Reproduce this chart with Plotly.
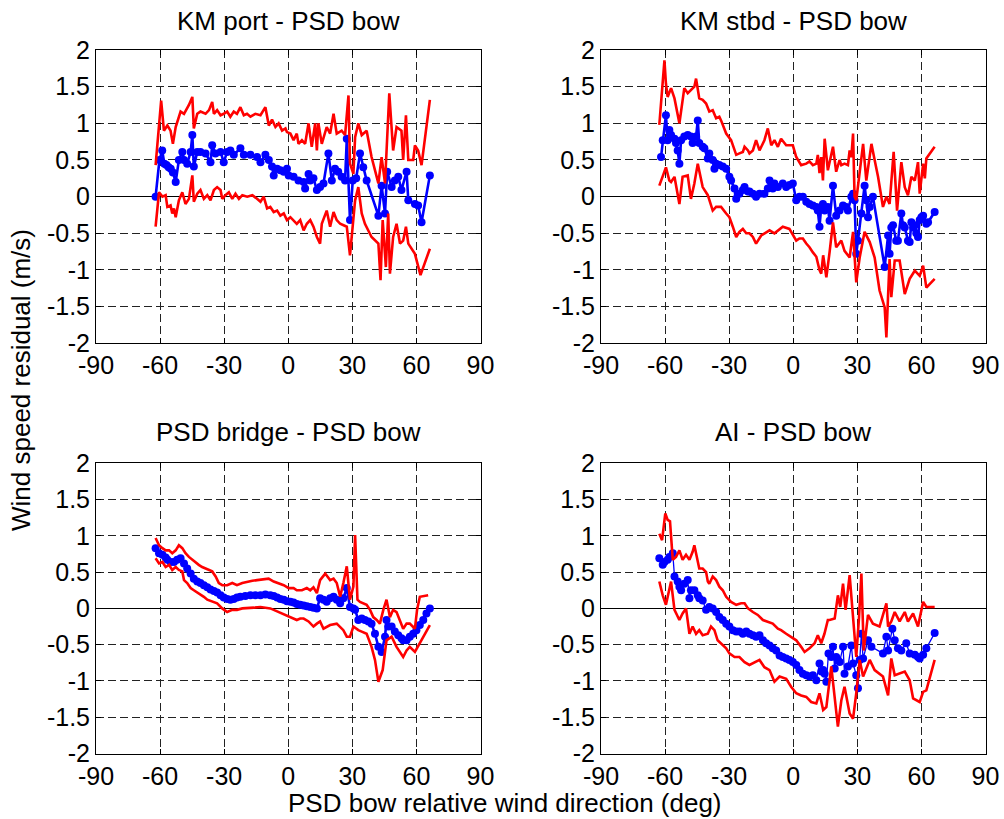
import plotly.graph_objects as go

# ---------------- data (x = PSD bow relative wind direction, deg; y = residual, m/s) ----------------
# Panel 1: KM port - PSD bow
p1_mean = [(-62.1,0.0),(-60.3,0.5),(-59.0,0.63),(-58.0,0.45),(-57.0,0.43),(-56.0,0.4),(-55.0,0.38),(-54.0,0.33),
           (-52.7,0.2),(-51.2,0.5),(-49.6,0.61),(-48.8,0.5),(-47.3,0.45),(-45.7,0.61),(-44.9,0.84),(-44.2,0.41),
           (-42.6,0.61),(-41.1,0.61),(-38.7,0.59),(-36.4,0.47),(-35.6,0.7),(-34.1,0.59),(-31.7,0.61),(-30.2,0.47),
           (-28.6,0.61),(-27.1,0.63),(-25.5,0.57),(-22.4,0.66),(-20.8,0.57),(-17.7,0.57),(-14.6,0.54),(-13.0,0.47),
           (-10.7,0.57),(-9.1,0.5),(-7.6,0.41),(-6.8,0.29),(-5.2,0.38),(-3.7,0.36),(-2.1,0.34),(-0.6,0.38),
           (0.2,0.29),(2.5,0.27),(4.8,0.22),(7.2,0.2),(7.9,0.11),(9.5,0.31),(10.3,0.22),(11.8,0.25),(13.4,0.09),
           (14.9,0.13),(16.5,0.18),(18.8,0.59),(20.4,0.22),(21.9,0.38),(23.4,0.34),(25.0,0.27),(26.6,0.22),
           (27.4,0.79),(28.9,-0.32),(30.2,0.22),(31.8,0.25),(33.6,0.59),(35.1,0.4),(36.7,0.22),(42.2,-0.26),
           (43.7,0.15),(45.3,-0.23),(46.3,0.34),(48.4,0.13),(49.9,0.22),(51.5,0.27),(53.0,0.09),(55.4,0.34),
           (56.2,-0.05),(59.3,-0.1),(60.8,-0.12),(62.4,-0.35),(66.3,0.29)]
p1_upper = [(-62.1,0.43),(-59.5,1.31),(-58.2,0.9),(-56.6,0.97),(-55.1,0.9),(-54.0,0.72),(-52.7,0.95),(-51.2,1.1),
            (-50.4,1.16),(-48.8,1.13),(-47.3,1.2),(-46.5,1.25),(-44.9,1.36),(-44.2,0.93),(-42.6,1.13),(-41.1,1.16),
            (-38.7,1.13),(-37.1,1.18),(-35.6,1.29),(-34.8,1.13),(-33.3,1.18),(-31.7,1.11),(-30.2,1.13),(-28.6,1.16),
            (-27.1,1.09),(-25.5,1.16),(-24.0,1.13),(-22.4,1.22),(-20.8,1.11),(-19.3,1.13),(-17.7,1.09),(-15.4,1.13),
            (-13.0,1.11),(-10.7,1.22),(-9.1,0.97),(-7.6,1.05),(-6.0,0.95),(-4.5,1.0),(-2.9,0.9),(-1.3,0.93),
            (-0.6,0.88),(1.0,0.86),(2.5,0.77),(4.0,0.86),(4.8,0.72),(6.4,0.77),(7.9,0.72),(9.5,1.0),(11.0,0.68),
            (12.6,1.0),(13.4,0.63),(14.1,1.0),(15.7,0.72),(18.0,0.95),(19.6,0.86),(21.2,1.13),(22.7,0.86),
            (25.0,0.9),(26.6,0.84),(28.2,1.38),(28.9,0.45),(30.5,0.31),(31.3,0.81),(32.8,1.0),(34.4,0.84),
            (36.7,0.9),(39.0,0.54),(42.2,0.18),(43.7,0.54),(45.3,0.18),(47.3,1.41),(49.1,0.63),(50.7,0.95),
            (53.0,0.9),(53.8,0.5),(55.1,1.11),(56.2,0.5),(58.5,0.5),(59.3,0.7),(60.8,0.63),(62.4,0.43),(66.3,1.32)]
p1_lower = [(-62.1,-0.41),(-60.5,0.06),(-58.9,0.0),(-57.4,0.02),(-56.6,-0.14),(-55.1,-0.12),(-54.3,-0.23),
            (-53.5,-0.16),(-52.7,-0.28),(-51.2,-0.05),(-49.6,0.06),(-48.1,-0.1),(-46.5,-0.03),(-44.9,0.29),
            (-44.2,-0.07),(-42.6,0.04),(-41.1,0.09),(-39.5,-0.03),(-37.9,0.02),(-36.4,-0.05),(-34.8,0.09),
            (-33.3,0.13),(-31.7,0.09),(-30.9,-0.03),(-29.4,0.02),(-27.8,0.06),(-26.2,-0.03),(-24.7,0.04),
            (-23.1,-0.03),(-21.5,0.02),(-19.2,0.0),(-16.8,0.02),(-14.6,-0.03),(-13.0,-0.07),(-11.5,0.0),
            (-9.9,-0.16),(-8.4,-0.14),(-6.8,-0.21),(-5.2,-0.19),(-3.7,-0.26),(-2.1,-0.23),(-0.6,-0.32),
            (1.0,-0.28),(2.5,-0.32),(4.0,-0.37),(5.6,-0.32),(7.2,-0.46),(8.7,-0.37),(10.3,-0.32),(11.8,-0.41),
            (13.4,-0.55),(14.9,-0.64),(15.7,-0.37),(18.0,-0.19),(19.6,-0.41),(21.2,-0.21),(22.7,-0.32),
            (24.3,-0.37),(27.4,-0.41),(28.9,-0.8),(31.3,-0.05),(32.8,0.13),(34.4,-0.23),(35.9,-0.37),
            (39.0,-0.55),(42.2,-0.64),(43.2,-1.14),(44.2,-0.32),(45.7,-0.96),(46.8,-0.23),(47.6,-1.05),
            (49.1,-0.55),(50.7,-0.37),(52.3,-0.64),(53.8,-0.6),(55.1,-0.41),(56.2,-0.64),(59.3,-0.78),
            (61.9,-1.07),(66.3,-0.71)]

# Panel 2: KM stbd - PSD bow
p2_mean = [(-61.9,0.54),(-61.1,0.77),(-59.6,1.11),(-58.8,0.77),(-58.0,0.91),(-57.2,0.84),(-55.6,0.79),
           (-54.9,0.73),(-54.1,0.63),(-53.3,0.45),(-52.5,0.77),(-51.0,0.82),(-49.4,0.84),(-47.9,0.82),
           (-47.1,0.73),(-45.5,0.82),(-44.7,1.04),(-44.0,0.73),(-42.4,0.68),(-41.6,0.66),(-40.0,0.52),
           (-39.3,0.59),(-37.7,0.5),(-36.9,0.38),(-36.1,0.45),(-34.6,0.43),(-33.0,0.41),(-31.4,0.38),
           (-29.9,0.27),(-29.1,0.22),(-27.5,0.11),(-26.7,-0.03),(-26.0,0.04),(-25.2,0.04),(-23.6,0.09),
           (-22.8,0.13),(-21.2,0.07),(-20.5,0.07),(-18.9,0.04),(-17.4,0.0),(-15.8,0.04),(-13.5,0.04),
           (-11.9,0.11),(-11.1,0.22),(-9.6,0.11),(-8.8,0.18),(-7.2,0.13),(-4.9,0.18),(-3.3,0.13),(-1.8,0.16),
           (-0.2,0.18),(1.4,-0.05),(2.9,0.0),(4.5,0.0),(6.1,-0.07),(7.6,-0.1),(9.2,-0.12),(10.8,-0.14),
           (11.5,-0.19),(12.3,-0.41),(13.1,-0.14),(13.9,-0.1),(14.7,-0.19),(16.2,-0.14),(17.0,-0.33),
           (18.6,0.15),(20.1,-0.26),(21.7,-0.19),(23.3,-0.12),(24.8,-0.14),(25.6,-0.19),(27.2,0.0),(28.0,0.04),
           (28.7,-0.05),(29.5,-0.78),(30.3,-0.6),(31.9,-0.23),(33.4,0.15),(34.2,-0.05),(35.0,-0.28),
           (35.8,-0.14),(37.3,0.0),(42.8,-0.96),(44.4,-0.53),(45.1,-0.78),(45.9,-0.42),(46.7,-0.39),
           (48.2,-0.6),(49.0,-0.6),(50.6,-0.23),(51.4,-0.39),(52.2,-0.42),(53.7,-0.6),(54.5,-0.62),
           (55.3,-0.35),(56.1,-0.42),(56.9,-0.39),(57.6,-0.5),(58.4,-0.55),(59.2,-0.32),(60.0,-0.28),
           (60.8,-0.26),(62.3,-0.37),(63.1,-0.35),(66.2,-0.21)]
p2_upper = [(-62.7,0.98),(-60.3,1.86),(-59.6,1.54),(-58.8,1.36),(-57.2,1.48),(-55.6,1.34),(-53.3,1.0),
            (-51.8,1.36),(-51.0,1.48),(-49.4,1.41),(-47.9,1.45),(-46.3,1.5),(-45.5,1.61),(-44.0,1.34),
            (-42.4,1.32),(-40.8,1.27),(-39.3,1.16),(-37.7,1.18),(-36.1,1.07),(-34.6,1.09),(-33.8,1.04),
            (-31.4,0.86),(-29.1,0.77),(-27.5,0.63),(-26.7,0.57),(-25.2,0.59),(-23.6,0.61),(-22.8,0.68),
            (-21.2,0.63),(-20.5,0.59),(-18.9,0.63),(-17.4,0.77),(-15.8,0.63),(-13.5,0.77),(-11.9,0.93),
            (-10.3,0.7),(-8.8,0.77),(-7.2,0.68),(-5.7,0.79),(-3.3,0.7),(-0.2,0.7),(1.4,0.54),(3.7,0.43),
            (6.1,0.45),(7.6,0.48),(9.2,0.43),(10.8,0.45),(11.5,0.57),(12.3,0.32),(13.1,0.54),(13.9,0.22),
            (14.7,0.79),(16.2,0.36),(18.6,0.68),(20.1,0.34),(21.7,0.5),(22.5,0.43),(24.0,0.45),(25.6,0.43),
            (26.4,0.63),(27.2,0.54),(28.0,0.86),(28.7,0.0),(29.5,-0.05),(31.1,0.36),(32.7,0.72),(34.2,0.22),
            (36.6,0.72),(38.1,0.5),(39.7,0.27),(42.0,-0.14),(43.6,0.0),(45.1,-0.1),(47.0,0.61),(48.6,-0.19),
            (50.6,0.47),(52.2,0.13),(53.7,0.02),(55.3,0.27),(56.9,0.22),(58.4,0.47),(59.2,0.04),(60.8,0.45),
            (61.6,0.25),(62.3,0.52),(66.2,0.68)]
p2_lower = [(-62.7,0.15),(-59.6,0.4),(-58.0,0.22),(-57.2,0.2),(-55.6,0.27),(-53.3,-0.1),(-51.8,0.27),
            (-49.4,0.29),(-47.9,-0.03),(-46.3,0.18),(-44.7,0.45),(-42.4,0.13),(-40.0,0.02),(-38.5,-0.14),
            (-37.7,-0.19),(-36.1,-0.14),(-33.8,-0.14),(-31.4,-0.23),(-29.9,-0.28),(-28.3,-0.41),(-26.7,-0.55),
            (-25.2,-0.48),(-23.6,-0.44),(-22.0,-0.5),(-20.5,-0.5),(-18.9,-0.55),(-17.4,-0.64),(-15.0,-0.53),
            (-13.5,-0.5),(-11.1,-0.46),(-8.8,-0.5),(-6.4,-0.44),(-4.9,-0.41),(-1.8,-0.44),(1.4,-0.6),
            (2.9,-0.57),(4.5,-0.57),(6.1,-0.64),(7.6,-0.69),(9.2,-0.76),(10.8,-0.82),(12.3,-1.0),(13.1,-1.05),
            (14.0,-0.8),(15.5,-1.1),(17.0,-0.76),(18.6,-0.35),(20.1,-0.69),(22.5,-0.6),(24.0,-0.74),
            (26.4,-0.83),(28.0,-0.48),(29.5,-1.17),(31.1,-0.83),(33.4,-0.48),(35.8,-0.62),(38.1,-0.83),
            (40.4,-1.28),(42.8,-1.51),(43.6,-1.92),(45.1,-0.85),(45.9,-1.37),(47.5,-0.87),(49.8,-0.87),
            (52.2,-1.33),(54.5,-1.12),(56.9,-1.01),(59.2,-1.08),(60.8,-0.94),(62.3,-1.24),(66.2,-1.12)]

# Panel 3: PSD bridge - PSD bow
p3_mean = [(-62.1,0.83),(-60.5,0.76),(-58.9,0.74),(-57.4,0.7),(-56.6,0.67),(-55.1,0.64),(-53.5,0.64),
           (-52.0,0.67),(-50.4,0.69),(-48.8,0.62),(-47.3,0.55),(-45.7,0.48),(-44.2,0.41),(-42.6,0.37),
           (-41.1,0.35),(-39.5,0.32),(-37.9,0.29),(-36.4,0.26),(-34.8,0.24),(-33.3,0.22),(-31.7,0.18),
           (-30.2,0.15),(-28.6,0.13),(-27.1,0.12),(-25.5,0.13),(-24.0,0.15),(-22.4,0.16),(-20.1,0.17),
           (-17.7,0.18),(-15.4,0.18),(-13.0,0.18),(-10.7,0.19),(-8.4,0.18),(-6.8,0.17),(-5.2,0.15),
           (-3.7,0.13),(-2.1,0.12),(-0.6,0.1),(1.0,0.09),(2.5,0.08),(4.0,0.06),(5.6,0.05),(7.2,0.04),
           (8.7,0.03),(10.3,0.02),(11.8,0.01),(13.4,0.0),(14.9,0.14),(16.5,0.12),(18.0,0.09),(19.6,0.14),
           (21.2,0.16),(22.7,0.12),(24.3,0.07),(25.8,0.14),(27.4,0.28),(28.9,0.02),(30.5,0.0),(31.3,-0.02),
           (32.8,-0.16),(34.4,-0.14),(35.9,-0.16),(37.5,-0.18),(39.0,-0.21),(40.6,-0.35),(42.2,-0.53),
           (43.7,-0.6),(45.3,-0.39),(46.0,-0.16),(46.8,-0.25),(48.4,-0.25),(49.9,-0.32),(51.5,-0.37),
           (53.0,-0.41),(53.8,-0.44),(55.4,-0.44),(56.9,-0.39),(58.5,-0.35),(60.0,-0.3),(61.6,-0.23),
           (63.2,-0.16),(64.7,-0.07),(66.3,0.0)]
p3_upper = [(-62.1,0.97),(-60.5,0.87),(-58.9,0.83),(-57.4,0.8),(-55.8,0.8),(-54.3,0.76),(-52.7,0.8),
            (-51.2,0.87),(-49.6,0.83),(-48.1,0.76),(-46.5,0.71),(-44.9,0.67),(-43.4,0.64),(-41.9,0.6),
            (-40.3,0.57),(-38.7,0.55),(-37.1,0.53),(-35.6,0.51),(-34.0,0.44),(-32.5,0.35),(-30.9,0.32),
            (-28.6,0.32),(-26.2,0.35),(-24.0,0.32),(-21.5,0.35),(-19.2,0.37),(-16.8,0.38),(-14.6,0.39),
            (-12.2,0.4),(-9.2,0.41),(-6.8,0.37),(-4.5,0.35),(-2.1,0.32),(0.2,0.28),(2.5,0.28),(4.0,0.25),
            (6.4,0.25),(8.7,0.28),(10.3,0.25),(11.8,0.29),(13.4,0.21),(14.9,0.39),(17.3,0.48),(19.6,0.39),
            (21.2,0.41),(22.7,0.35),(24.3,0.16),(25.8,0.35),(27.4,0.58),(28.9,0.12),(30.5,0.3),(31.3,1.01),
            (32.4,0.12),(33.6,0.09),(35.1,0.07),(36.7,0.05),(38.3,-0.02),(39.8,-0.12),(41.4,-0.16),
            (42.9,-0.21),(44.5,-0.02),(46.0,0.12),(47.6,-0.12),(49.1,-0.02),(50.7,-0.05),(52.3,-0.16),
            (53.8,-0.28),(55.4,-0.21),(56.9,-0.21),(59.3,-0.28),(60.3,-0.02),(61.6,0.16),(65.5,0.18)]
p3_lower = [(-62.1,0.69),(-60.5,0.62),(-58.9,0.64),(-57.4,0.57),(-55.8,0.6),(-54.3,0.53),(-52.7,0.57),
            (-51.2,0.53),(-49.6,0.51),(-48.8,0.39),(-47.3,0.35),(-45.7,0.28),(-44.2,0.25),(-41.9,0.21),
            (-39.5,0.16),(-37.9,0.12),(-35.6,0.09),(-33.3,0.07),(-30.9,0.0),(-28.6,-0.05),(-26.2,-0.02),
            (-24.0,-0.02),(-21.5,0.0),(-19.2,0.0),(-16.1,0.01),(-13.0,0.02),(-10.7,0.01),(-8.4,0.0),
            (-6.0,-0.03),(-3.7,-0.06),(-0.6,-0.09),(1.7,-0.12),(4.0,-0.16),(5.6,-0.14),(7.2,-0.14),
            (9.5,-0.18),(11.8,-0.25),(13.4,-0.21),(14.9,-0.18),(16.5,-0.28),(19.6,-0.23),(22.7,-0.21),
            (25.8,-0.3),(27.4,-0.39),(28.9,-0.39),(30.5,-0.25),(32.8,-0.3),(34.4,-0.32),(36.7,-0.35),
            (39.0,-0.53),(40.6,-0.71),(42.2,-1.01),(44.2,-0.85),(46.0,-0.44),(48.4,-0.39),(50.7,-0.53),
            (53.8,-0.67),(55.4,-0.58),(56.9,-0.53),(59.3,-0.6),(61.6,-0.48),(66.3,-0.23)]

# Panel 4: AI - PSD bow
p4_mean = [(-62.7,0.69),(-61.1,0.6),(-60.3,0.64),(-58.8,0.67),(-58.0,0.71),(-56.4,0.76),(-55.6,0.44),
           (-54.1,0.37),(-53.3,0.3),(-52.5,0.25),(-51.0,0.34),(-49.4,0.39),(-48.6,0.14),(-47.9,0.25),
           (-46.3,0.25),(-44.7,0.18),(-44.0,0.14),(-42.4,0.11),(-40.8,-0.02),(-39.3,0.02),(-37.7,0.0),
           (-36.1,-0.05),(-34.6,-0.12),(-33.0,-0.16),(-31.4,-0.21),(-29.9,-0.25),(-28.3,-0.3),(-26.7,-0.32),
           (-25.2,-0.32),(-23.6,-0.35),(-22.0,-0.32),(-20.5,-0.35),(-18.9,-0.37),(-17.4,-0.39),(-15.8,-0.37),
           (-14.2,-0.44),(-12.7,-0.48),(-11.1,-0.51),(-9.6,-0.55),(-8.0,-0.58),(-6.4,-0.65),(-4.9,-0.67),
           (-3.3,-0.69),(-1.8,-0.71),(-0.2,-0.74),(1.4,-0.78),(2.9,-0.85),(4.5,-0.9),(6.1,-0.92),(7.6,-0.94),
           (9.2,-0.92),(10.8,-0.99),(12.3,-0.76),(13.2,-0.87),(14.0,-0.85),(14.7,-0.9),(15.5,-1.01),
           (16.5,-0.62),(17.8,-0.67),(18.6,-0.53),(19.4,-0.83),(20.1,-0.67),(20.9,-0.71),(21.7,-0.74),
           (23.3,-0.53),(24.0,-0.9),(25.6,-0.8),(27.2,-0.51),(28.0,-0.76),(29.5,-0.92),(30.3,-1.1),
           (31.1,-0.71),(31.9,-0.35),(32.7,-0.69),(35.0,-0.44),(36.6,-0.53),(42.0,-0.62),(43.6,-0.39),
           (44.4,-0.58),(46.4,-0.28),(47.5,-0.44),(49.0,-0.55),(50.6,-0.58),(52.9,-0.48),(54.5,-0.62),
           (56.9,-0.64),(58.4,-0.67),(59.2,-0.69),(60.8,-0.64),(62.3,-0.55),(66.2,-0.34)]
p4_upper = [(-62.7,1.03),(-61.4,0.94),(-59.9,1.31),(-58.8,1.22),(-57.7,1.2),(-56.4,0.67),(-54.9,0.71),
            (-53.3,0.8),(-51.8,0.67),(-50.2,0.74),(-48.6,0.67),(-47.1,0.78),(-46.3,0.87),(-44.7,0.67),
            (-44.0,0.55),(-42.4,0.55),(-40.8,0.5),(-40.0,0.37),(-39.3,0.34),(-37.7,0.44),(-36.1,0.39),
            (-34.6,0.3),(-33.0,0.25),(-31.4,0.16),(-29.1,0.09),(-26.7,0.05),(-24.4,0.07),(-22.8,0.07),
            (-21.2,0.0),(-18.9,-0.05),(-16.6,-0.09),(-14.2,-0.16),(-11.9,-0.19),(-9.6,-0.21),(-7.2,-0.28),
            (-5.7,-0.3),(-3.3,-0.35),(-1.0,-0.39),(1.4,-0.44),(3.7,-0.53),(5.3,-0.6),(7.6,-0.55),(10.0,-0.48),
            (11.5,-0.37),(13.1,-0.48),(14.6,-0.35),(16.2,-0.16),(17.0,-0.16),(19.4,-0.14),(20.9,0.18),
            (22.0,0.02),(23.3,0.34),(24.5,-0.02),(26.4,0.46),(28.0,-0.12),(29.5,-0.67),(30.8,-0.12),
            (31.9,0.48),(33.0,-0.58),(35.0,-0.09),(37.3,-0.21),(40.4,-0.25),(43.6,0.07),(44.4,-0.25),
            (45.9,-0.18),(47.5,-0.05),(49.8,-0.18),(52.2,-0.05),(53.7,-0.18),(56.1,-0.07),(58.4,-0.25),
            (60.8,0.09),(62.3,0.02),(66.2,0.02)]
p4_lower = [(-62.7,0.37),(-61.1,0.18),(-59.6,0.05),(-57.2,0.37),(-55.6,-0.02),(-53.3,-0.16),(-51.8,-0.07),
            (-50.2,0.0),(-48.6,-0.35),(-47.1,-0.25),(-45.5,-0.35),(-44.0,-0.3),(-42.4,-0.37),(-40.0,-0.35),
            (-38.5,-0.25),(-36.9,-0.3),(-35.4,-0.44),(-33.8,-0.48),(-31.4,-0.55),(-29.9,-0.62),(-27.5,-0.67),
            (-25.2,-0.67),(-22.8,-0.74),(-20.5,-0.78),(-18.1,-0.74),(-15.8,-0.71),(-13.5,-0.81),(-11.1,-0.85),
            (-8.8,-1.01),(-6.4,-0.94),(-3.3,-0.97),(-1.0,-1.08),(1.4,-1.17),(3.7,-1.2),(6.1,-1.22),
            (8.4,-1.29),(10.8,-1.31),(12.3,-1.17),(14.0,-1.4),(15.5,-1.36),(17.8,-0.8),(19.4,-1.22),
            (20.9,-1.63),(22.5,-1.27),(24.0,-1.08),(26.4,-1.45),(28.0,-1.52),(29.5,-1.17),(31.1,-0.71),
            (32.7,-0.94),(35.8,-0.71),(38.1,-0.85),(42.0,-0.94),(44.4,-1.2),(45.9,-0.69),(47.5,-0.92),
            (49.8,-0.9),(52.2,-0.87),(54.5,-0.99),(56.1,-1.24),(59.2,-1.29),(60.8,-1.15),(62.3,-1.13),
            (66.2,-0.71)]

titles = ["KM port - PSD bow", "KM stbd - PSD bow", "PSD bridge - PSD bow", "AI - PSD bow"]
x_ticks = [-90, -60, -30, 0, 30, 60, 90]
x_tick_labels = ["-90", "-60", "-30", "0", "30", "60", "90"]
y_ticks = [-2, -1.5, -1, -0.5, 0, 0.5, 1, 1.5, 2]
y_tick_labels = ["-2", "-1.5", "-1", "-0.5", "0", "0.5", "1", "1.5", "2"]
x_title = "PSD bow relative wind direction (deg)"
y_title = "Wind speed residual (m/s)"

# ---------------- figure ----------------
W, H = 1004, 819
FONT = "Liberation Sans, Arial, Helvetica, sans-serif"
FS = 26      # titles
FT = 25      # tick labels
x_dom = [[96 / W, 480.5 / W], [601 / W, 985.5 / W]]
y_dom = [[1 - 343.3 / H, 1 - 50 / H], [1 - 753.5 / H, 1 - 463.3 / H]]
panels = [(p1_mean, p1_upper, p1_lower, 2.6), (p2_mean, p2_upper, p2_lower, 2.6),
          (p3_mean, p3_upper, p3_lower, 2.6), (p4_mean, p4_upper, p4_lower, 1.3)]

fig = go.Figure()
layout = dict(width=W, height=H, margin=dict(l=0, r=0, t=0, b=0),
              paper_bgcolor="white", plot_bgcolor="white", showlegend=False,
              font=dict(family=FONT, size=FT, color="black"))
annotations = []
for i, (mean, up, lo, bw) in enumerate(panels):
    r, c = divmod(i, 2)
    n = "" if i == 0 else str(i + 1)
    xa, ya = "x" + n, "y" + n
    fig.add_trace(go.Scatter(x=[p[0] for p in mean], y=[p[1] for p in mean], mode="lines+markers",
                             line=dict(color="#0000FF", width=bw),
                             marker=dict(color="#0000FF", size=8), xaxis=xa, yaxis=ya, hoverinfo="skip"))
    for s in (up, lo):
        fig.add_trace(go.Scatter(x=[p[0] for p in s], y=[p[1] for p in s], mode="lines",
                                 line=dict(color="#FF0000", width=2.6), xaxis=xa, yaxis=ya, hoverinfo="skip"))
    common = dict(showline=True, linecolor="black", linewidth=1, mirror="ticks", ticks="inside",
                  ticklen=5, tickcolor="black", showgrid=True, gridcolor="#222222", gridwidth=1,
                  griddash="8px,4px", tickfont=dict(family=FONT, size=FT, color="black"), automargin=False)
    layout["xaxis" + n] = dict(domain=x_dom[c], anchor=ya, range=[-90, 90], tickvals=x_ticks,
                               ticktext=x_tick_labels, zeroline=False, **common)
    layout["yaxis" + n] = dict(domain=y_dom[r], anchor=xa, range=[-2, 2], tickvals=y_ticks,
                               ticktext=y_tick_labels, zeroline=True, zerolinecolor="black",
                               zerolinewidth=1, **common)
    cx = (x_dom[c][0] + x_dom[c][1]) / 2
    ty = 1 - (20.5 if r == 0 else 432) / H
    annotations.append(dict(text=titles[i], x=cx, y=ty, xref="paper", yref="paper", xanchor="center",
                            yanchor="middle", showarrow=False, font=dict(family=FONT, size=FS, color="black")))

annotations.append(dict(text=x_title, x=505 / W, y=1 - 803 / H, xref="paper", yref="paper",
                        xanchor="center", yanchor="middle", showarrow=False,
                        font=dict(family=FONT, size=FS, color="black")))
annotations.append(dict(text=y_title, x=21 / W, y=1 - 380 / H, xref="paper", yref="paper",
                        xanchor="center", yanchor="middle", textangle=-90, showarrow=False,
                        borderpad=0, font=dict(family=FONT, size=26, color="black")))
layout["annotations"] = annotations
fig.update_layout(**layout)
fig.write_html("out.html")
